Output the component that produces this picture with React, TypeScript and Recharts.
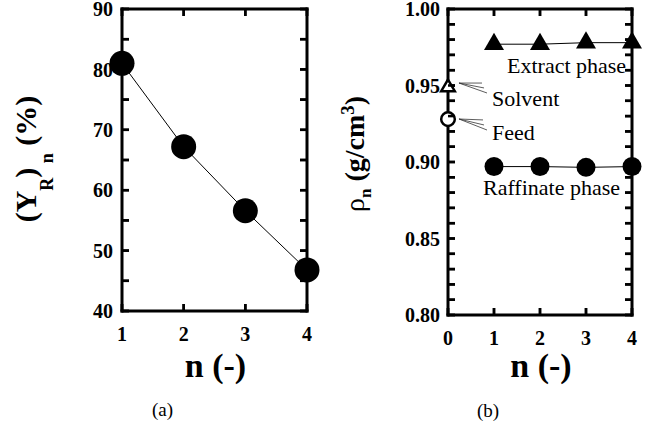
import React from 'react';
import { LineChart, Line, XAxis, YAxis, Label, ReferenceDot, ReferenceLine } from 'recharts';

const FONT = '"Liberation Serif", "Times New Roman", serif';

// ---- Panel (a): raffinate yield vs stage ----
const stagesA = [1, 2, 3, 4];
const yieldA = [81.0, 67.2, 56.6, 46.8];
const xTicksA = [1, 2, 3, 4];
const yTicksA = [40, 50, 60, 70, 80, 90];
const yMinorTicksA = [40, 45, 50, 55, 60, 65, 70, 75, 80, 85, 90];

// ---- Panel (b): density vs stage ----
const stagesB = [0, 1, 2, 3, 4];
const extractB = [null, 0.977, 0.977, 0.978, 0.978];
const raffinateB = [null, 0.897, 0.897, 0.8965, 0.897];
const solventB = [0.949, null, null, null, null];
const feedB = [0.928, null, null, null, null];
const xTicksB = [0, 1, 2, 3, 4];
const yTicksB = [0.8, 0.85, 0.9, 0.95, 1.0];
const yMinorTicksB = [
  0.8, 0.81, 0.82, 0.83, 0.84, 0.85, 0.86, 0.87, 0.88, 0.89, 0.9,
  0.91, 0.92, 0.93, 0.94, 0.95, 0.96, 0.97, 0.98, 0.99, 1.0,
];

const dataA = stagesA.map((n, i) => ({ n, y: yieldA[i] }));
const dataB = stagesB.map((n, i) => ({
  n,
  extract: extractB[i],
  raffinate: raffinateB[i],
  solvent: solventB[i],
  feed: feedB[i],
}));

const isMajor = (list: number[], v: number) => list.some((t) => Math.abs(t - v) < 1e-9);
const fmtA = (v: number) => (isMajor(yTicksA, v) ? String(v) : '');
const fmtB = (v: number) => (isMajor(yTicksB, v) ? v.toFixed(2) : '');
const fmtX = (v: number) => String(v);

const frame = { stroke: '#000', strokeWidth: 3, strokeLinecap: 'square' as const };
const TL = 7; // inward tick length (px)
const TW = 2.5; // tick thickness
const textProps = { fill: '#000', fontSize: 20, fontWeight: 'bold' as const, fontFamily: FONT };

// tick marks drawn as small filled rectangles
const hTick = (x0: number, x1: number, y: number) => (
  <rect x={Math.min(x0, x1)} y={y - TW / 2} width={Math.abs(x1 - x0)} height={TW} fill="#000" stroke="none" />
);
const vTick = (x: number, y0: number, y1: number) => (
  <rect x={x - TW / 2} y={Math.min(y0, y1)} width={TW} height={Math.abs(y1 - y0)} fill="#000" stroke="none" />
);

const leftTick = (gap: number, fmt: (v: number) => string) => (p: any) => {
  const ax = p.x + gap;
  const label = fmt(p.payload.value);
  return (
    <g>
      {hTick(ax, ax + TL, p.y)}
      {label ? (
        <text x={p.x} y={p.y} dy="0.355em" textAnchor="end" {...textProps}>
          {label}
        </text>
      ) : null}
    </g>
  );
};
const bottomTick = (gap: number, fmt: (v: number) => string) => (p: any) => {
  const ay = p.y - gap;
  return (
    <g>
      {vTick(p.x, ay - TL, ay)}
      <text x={p.x} y={p.y} dy="0.71em" textAnchor="middle" {...textProps}>
        {fmt(p.payload.value)}
      </text>
    </g>
  );
};
const rightTick = (p: any) => <g>{hTick(p.x - TL, p.x, p.y)}</g>;
const topTick = (p: any) => <g>{vTick(p.x, p.y, p.y + TL)}</g>;

const yTickShape = (p: any) => {
  const l = Math.min(p.x1, p.x2);
  const r = Math.max(p.x1, p.x2);
  return (
    <g>
      {hTick(l, l + TL, p.y1)}
      {hTick(r - TL, r, p.y2)}
    </g>
  );
};
const xTickShape = (p: any) => {
  const t = Math.min(p.y1, p.y2);
  const b = Math.max(p.y1, p.y2);
  return (
    <g>
      {vTick(p.x1, t, t + TL)}
      {vTick(p.x2, b - TL, b)}
    </g>
  );
};

const ok = (p: any) => p && Number.isFinite(p.cx) && Number.isFinite(p.cy) && p.value != null;

const filledCircle = (r: number) => (p: any) =>
  ok(p) ? <circle key={`c${p.index}`} cx={p.cx} cy={p.cy} r={r} fill="#000" stroke="none" /> : <g key={`c${p.index}`} />;

const filledTriangle = (p: any) =>
  ok(p) ? (
    <path
      key={`t${p.index}`}
      d={`M${p.cx},${p.cy - 11.5} L${p.cx + 10},${p.cy + 5.8} L${p.cx - 10},${p.cy + 5.8} Z`}
      fill="#000"
      stroke="none"
    />
  ) : (
    <g key={`t${p.index}`} />
  );

const openTriangle = (p: any) =>
  ok(p) ? (
    <path
      key={`o${p.index}`}
      d={`M${p.cx},${p.cy - 7.5} L${p.cx + 6.8},${p.cy + 4.2} L${p.cx - 6.8},${p.cy + 4.2} Z`}
      fill="#fff"
      stroke="#000"
      strokeWidth={2.5}
    />
  ) : (
    <g key={`o${p.index}`} />
  );

const openCircle = (p: any) =>
  ok(p) ? (
    <circle key={`oc${p.index}`} cx={p.cx} cy={p.cy} r={6.8} fill="#fff" stroke="#000" strokeWidth={2.5} />
  ) : (
    <g key={`oc${p.index}`} />
  );

const xTitle = (dyTitle: number, dyCap: number, cap: string) => (props: any) => {
  const vb = props.viewBox;
  const cx = vb.x + vb.width / 2;
  return (
    <g>
      <text x={cx + 1} y={vb.y + dyTitle} textAnchor="middle" fontFamily={FONT} fontWeight="bold" fontSize={34} fill="#000">
        n (-)
      </text>
      <text x={cx - 52} y={vb.y + dyCap} textAnchor="middle" fontFamily={FONT} fontSize={19} fill="#000">
        {cap}
      </text>
    </g>
  );
};

const yTitleA = (props: any) => {
  const vb = props.viewBox;
  const bx = vb.x + vb.width - 86;
  const cy = vb.y + vb.height / 2 - 1;
  return (
    <text
      transform={`translate(${bx},${cy}) rotate(-90)`}
      textAnchor="middle"
      fontFamily={FONT}
      fontWeight="bold"
      fontSize={30}
      fill="#000"
    >
      <tspan>(Y</tspan>
      <tspan dy={17} fontSize={18}>R</tspan>
      <tspan dy={-17}>)</tspan>
      <tspan dy={17} fontSize={18}>{'\u00A0n'}</tspan>
      <tspan dy={-17}>{'\u00A0(%)'}</tspan>
    </text>
  );
};

const yTitleB = (props: any) => {
  const vb = props.viewBox;
  const bx = vb.x + vb.width - 84;
  const cy = vb.y + vb.height / 2 - 8;
  return (
    <text
      transform={`translate(${bx},${cy}) rotate(-90)`}
      textAnchor="middle"
      fontFamily={FONT}
      fontWeight="bold"
      fontSize={28}
      fill="#000"
    >
      <tspan fontWeight="normal">ρ</tspan>
      <tspan dy={7} fontSize={17}>n</tspan>
      <tspan dy={-7}>{'\u00A0(g/cm'}</tspan>
      <tspan dy={-10} fontSize={19}>3</tspan>
      <tspan dy={10}>)</tspan>
    </text>
  );
};

const anno = (t: string) => (props: any) => {
  const vb = props.viewBox;
  return (
    <text x={vb.x} y={vb.y} fontFamily={FONT} fontSize={22} fill="#000">
      {t}
    </text>
  );
};

// leader lines (data coordinates) for the Solvent and Feed labels
const solventLeaders = [
  [0.239, 0.9516, 0.739, 0.9516],
  [0.239, 0.9516, 0.783, 0.9484],
  [0.239, 0.9516, 0.848, 0.9451],
];
const feedLeaders = [
  [0.239, 0.9281, 0.761, 0.9275],
  [0.239, 0.9281, 0.783, 0.9242],
  [0.239, 0.9281, 0.848, 0.9209],
];

function PanelA() {
  return (
    <LineChart width={324} height={422} data={dataA} margin={{ top: 8, right: 16, bottom: 31, left: 62 }}>
      <XAxis
        xAxisId="b"
        dataKey="n"
        type="number"
        domain={[1, 4]}
        ticks={xTicksA}
        interval={0}
        orientation="bottom"
        height={80}
        axisLine={frame}
        tickLine={false}
        tickSize={0}
        tickMargin={16}
        tick={bottomTick(16, fmtX)}
      >
        <Label content={xTitle(66, 105, '(a)')} />
      </XAxis>
      <XAxis xAxisId="t" dataKey="n" type="number" domain={[1, 4]} ticks={xTicksA} interval={0} orientation="top"
        height={1} axisLine={frame} tickLine={false} tickSize={0} tickMargin={0} tick={topTick} />
      <YAxis
        yAxisId="l"
        type="number"
        domain={[40, 90]}
        ticks={yMinorTicksA}
        interval={0}
        width={60}
        axisLine={frame}
        tickLine={false}
        tickSize={0}
        tickMargin={9}
        tick={leftTick(9, fmtA)}
      >
        <Label content={yTitleA} />
      </YAxis>
      <YAxis yAxisId="r" type="number" domain={[40, 90]} ticks={yMinorTicksA} interval={0} orientation="right"
        width={1} axisLine={frame} tickLine={false} tickSize={0} tickMargin={0} tick={rightTick} />
      <Line xAxisId="t" yAxisId="r" dataKey="y" stroke="none" dot={false} activeDot={false} isAnimationActive={false} />

      {yMinorTicksA.map((v) => (
        <ReferenceLine key={`ya${v}`} xAxisId="b" yAxisId="l" y={v} ifOverflow="visible" shape={yTickShape} />
      ))}
      {xTicksA.map((v) => (
        <ReferenceLine key={`xa${v}`} xAxisId="b" yAxisId="l" x={v} ifOverflow="visible" shape={xTickShape} />
      ))}

      <Line xAxisId="b" yAxisId="l" type="linear" dataKey="y" stroke="#000" strokeWidth={1}
        dot={filledCircle(12.5)} activeDot={false} isAnimationActive={false} />
    </LineChart>
  );
}

function PanelB() {
  return (
    <LineChart width={324} height={422} data={dataB} margin={{ top: 8, right: 15, bottom: 27, left: 64 }}>
      <XAxis
        xAxisId="b"
        dataKey="n"
        type="number"
        domain={[0, 4]}
        ticks={xTicksB}
        interval={0}
        orientation="bottom"
        height={80}
        axisLine={frame}
        tickLine={false}
        tickSize={0}
        tickMargin={16}
        tick={bottomTick(16, fmtX)}
      >
        <Label content={xTitle(62, 102, '(b)')} />
      </XAxis>
      <XAxis xAxisId="t" dataKey="n" type="number" domain={[0, 4]} ticks={xTicksB} interval={0} orientation="top"
        height={1} axisLine={frame} tickLine={false} tickSize={0} tickMargin={0} tick={topTick} />
      <YAxis
        yAxisId="l"
        type="number"
        domain={[0.8, 1.0]}
        ticks={yMinorTicksB}
        interval={0}
        width={60}
        axisLine={frame}
        tickLine={false}
        tickSize={0}
        tickMargin={8}
        tick={leftTick(8, fmtB)}
      >
        <Label content={yTitleB} />
      </YAxis>
      <YAxis yAxisId="r" type="number" domain={[0.8, 1.0]} ticks={yMinorTicksB} interval={0} orientation="right"
        width={1} axisLine={frame} tickLine={false} tickSize={0} tickMargin={0} tick={rightTick} />
      <Line xAxisId="t" yAxisId="r" dataKey="extract" stroke="none" dot={false} activeDot={false} isAnimationActive={false} />

      {yMinorTicksB.map((v) => (
        <ReferenceLine key={`yb${v}`} xAxisId="b" yAxisId="l" y={v} ifOverflow="visible" shape={yTickShape} />
      ))}
      {xTicksB.map((v) => (
        <ReferenceLine key={`xb${v}`} xAxisId="b" yAxisId="l" x={v} ifOverflow="visible" shape={xTickShape} />
      ))}

      {[...solventLeaders, ...feedLeaders].map((s, i) => (
        <ReferenceLine
          key={`ld${i}`}
          xAxisId="b"
          yAxisId="l"
          segment={[{ x: s[0], y: s[1] }, { x: s[2], y: s[3] }]}
          stroke="#333"
          strokeWidth={0.8}
          ifOverflow="visible"
        />
      ))}
      <ReferenceDot xAxisId="b" yAxisId="l" x={1.283} y={0.9582} r={0} fill="none" stroke="none" ifOverflow="visible" label={anno('Extract phase')} />
      <ReferenceDot xAxisId="b" yAxisId="l" x={0.957} y={0.9366} r={0} fill="none" stroke="none" ifOverflow="visible" label={anno('Solvent')} />
      <ReferenceDot xAxisId="b" yAxisId="l" x={0.957} y={0.9144} r={0} fill="none" stroke="none" ifOverflow="visible" label={anno('Feed')} />
      <ReferenceDot xAxisId="b" yAxisId="l" x={0.761} y={0.8784} r={0} fill="none" stroke="none" ifOverflow="visible" label={anno('Raffinate phase')} />

      <Line xAxisId="b" yAxisId="l" type="linear" dataKey="extract" stroke="#000" strokeWidth={1}
        dot={filledTriangle} activeDot={false} isAnimationActive={false} />
      <Line xAxisId="b" yAxisId="l" type="linear" dataKey="raffinate" stroke="#000" strokeWidth={1}
        dot={filledCircle(9.5)} activeDot={false} isAnimationActive={false} />
      <Line xAxisId="b" yAxisId="l" type="linear" dataKey="solvent" stroke="none"
        dot={openTriangle} activeDot={false} isAnimationActive={false} />
      <Line xAxisId="b" yAxisId="l" type="linear" dataKey="feed" stroke="none"
        dot={openCircle} activeDot={false} isAnimationActive={false} />
    </LineChart>
  );
}

export default function App() {
  return (
    <div style={{ position: 'absolute', left: 0, top: 0, width: 648, height: 422, background: '#fff', fontFamily: FONT }}>
      <div style={{ position: 'absolute', left: 0, top: 0, width: 324, height: 422 }}>
        <PanelA />
      </div>
      <div style={{ position: 'absolute', left: 324, top: 0, width: 324, height: 422 }}>
        <PanelB />
      </div>
    </div>
  );
}
